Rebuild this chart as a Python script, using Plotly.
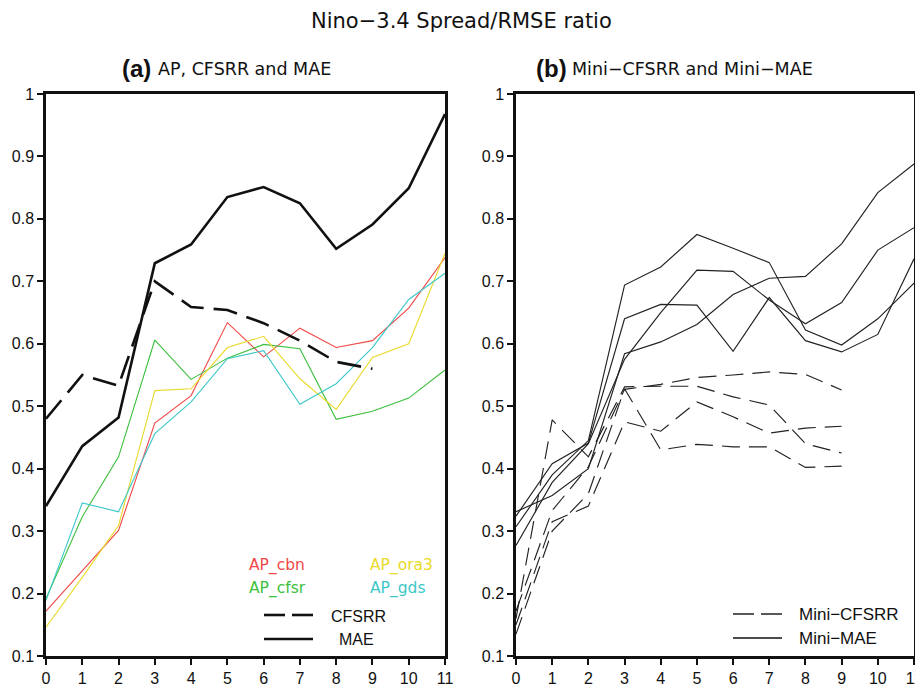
import plotly.graph_objects as go

leads = list(range(12))
leads10 = list(range(10))

# Panel (a)
mae = [0.340, 0.436, 0.482, 0.729, 0.759, 0.835, 0.851, 0.825, 0.752, 0.791, 0.849, 0.968]
cfsrr = [0.480, 0.550, 0.533, 0.700, 0.659, 0.654, 0.633, 0.605, 0.571, 0.560]
ap_cbn = [0.172, 0.237, 0.301, 0.473, 0.517, 0.634, 0.579, 0.625, 0.594, 0.605, 0.657, 0.738]
ap_cfsr = [0.192, 0.323, 0.419, 0.606, 0.543, 0.577, 0.599, 0.592, 0.479, 0.492, 0.513, 0.558]
ap_ora3 = [0.146, 0.226, 0.309, 0.525, 0.528, 0.594, 0.612, 0.544, 0.495, 0.578, 0.600, 0.745]
ap_gds = [0.189, 0.345, 0.331, 0.456, 0.507, 0.576, 0.589, 0.503, 0.536, 0.594, 0.671, 0.713]

# Panel (b)
mini_mae = [
    [0.307, 0.390, 0.445, 0.694, 0.723, 0.775, 0.753, 0.730, 0.622, 0.598, 0.640, 0.697],
    [0.324, 0.408, 0.441, 0.640, 0.663, 0.662, 0.588, 0.674, 0.605, 0.587, 0.615, 0.736],
    [0.277, 0.378, 0.440, 0.575, 0.650, 0.718, 0.716, 0.670, 0.632, 0.666, 0.750, 0.786],
    [0.331, 0.357, 0.400, 0.584, 0.603, 0.631, 0.679, 0.705, 0.708, 0.760, 0.842, 0.888],
]
mini_cfsrr = [
    [0.172, 0.333, 0.403, 0.527, 0.535, 0.546, 0.550, 0.555, 0.551, 0.526],
    [0.160, 0.478, 0.419, 0.531, 0.532, 0.532, 0.515, 0.502, 0.440, 0.425],
    [0.150, 0.315, 0.340, 0.475, 0.460, 0.507, 0.483, 0.457, 0.465, 0.468],
    [0.135, 0.300, 0.360, 0.528, 0.430, 0.439, 0.435, 0.435, 0.402, 0.404],
]

yticks = [0.1, 0.2, 0.3, 0.4, 0.5, 0.6, 0.7, 0.8, 0.9, 1.0]
yticktext = ["0.1", "0.2", "0.3", "0.4", "0.5", "0.6", "0.7", "0.8", "0.9", "1"]

RED = "#f04848"
GREEN = "#3cbf3c"
YELLOW = "#e8da2a"
CYAN = "#3cc8c8"

fig = go.Figure()

def add(x, y, color, width, dash, xa, ya):
    fig.add_trace(go.Scatter(x=x, y=y, mode="lines",
                             line=dict(color=color, width=width, dash=dash),
                             xaxis=xa, yaxis=ya, showlegend=False, hoverinfo="skip"))

add(leads, ap_cbn, RED, 1.1, "solid", "x", "y")
add(leads, ap_cfsr, GREEN, 1.1, "solid", "x", "y")
add(leads, ap_ora3, YELLOW, 1.1, "solid", "x", "y")
add(leads, ap_gds, CYAN, 1.1, "solid", "x", "y")
add(leads10, cfsrr, "#111111", 2.6, "24px,10px", "x", "y")
add(leads, mae, "#111111", 2.6, "solid", "x", "y")

for s in mini_cfsrr:
    add(leads10, s, "#222222", 1.15, "18px,9px", "x2", "y2")
for s in mini_mae:
    add(leads, s, "#222222", 1.15, "solid", "x2", "y2")

# page has an 8px body margin; figure sized to fit the window exactly
OFF = 8
W, H = 923 - OFF, 686 - OFF
def px(xp):
    return (xp - OFF) / W
def py(yp):
    return 1 - (yp - OFF) / H

axis_common = dict(
    showgrid=False, zeroline=False, showline=True, linecolor="#111111", linewidth=2.5,
    mirror=True, ticks="outside", ticklen=6, tickwidth=2, tickcolor="#111111",
    automargin=False,
    tickfont=dict(family="Liberation Sans", size=16, color="#111111"),
)

fig.update_layout(
    width=W, height=H,
    margin=dict(l=0, r=0, t=0, b=0, pad=0, autoexpand=False),
    paper_bgcolor="white", plot_bgcolor="white",
    xaxis=dict(domain=[px(46), px(445)], range=[0, 11], tickvals=leads, anchor="y", **axis_common),
    yaxis=dict(domain=[py(656), py(94)], range=[0.1, 1.0], tickvals=yticks, ticktext=yticktext,
               anchor="x", **axis_common),
    xaxis2=dict(domain=[px(516), px(914)], range=[0, 11], tickvals=leads, anchor="y2", **axis_common),
    yaxis2=dict(domain=[py(656), py(94)], range=[0.1, 1.0], tickvals=yticks, ticktext=yticktext,
                anchor="x2", **axis_common),
    showlegend=False,
)

ann = []
def text(xp, yp, t, size, color="#111111", family="DejaVu Sans", xanchor="left"):
    ann.append(dict(x=px(xp), y=py(yp), xref="paper", yref="paper", text=t, showarrow=False,
                    xanchor=xanchor, yanchor="middle",
                    font=dict(family=family, size=size, color=color)))

text(461, 21, "Nino\u22123.4 Spread/RMSE ratio", 21, xanchor="center")
text(120, 69, "<b>(a)</b>", 24, family="Liberation Sans")
text(156, 69, "AP, CFSRR and MAE", 17.5)
text(534, 69, "<b>(b)</b>", 24, family="Liberation Sans")
text(570, 69, "Mini\u2212CFSRR and Mini\u2212MAE", 17.5)

text(247, 565, "AP_cbn", 15.5, RED)
text(368, 565, "AP_ora3", 15.5, YELLOW)
text(247, 588, "AP_cfsr", 15.5, GREEN)
text(368, 588, "AP_gds", 15.5, CYAN)
text(329, 616, "CFSRR", 16, family="Liberation Sans")
text(337, 639, "MAE", 16, family="Liberation Sans")

text(797, 614, "Mini\u2212CFSRR", 17, family="Liberation Sans")
text(797, 638, "Mini\u2212MAE", 17, family="Liberation Sans")

fig.update_layout(annotations=ann)

shapes = []
def seg(x0, x1, yp, width, dash):
    shapes.append(dict(type="line", xref="paper", yref="paper", x0=px(x0), x1=px(x1),
                       y0=py(yp), y1=py(yp), line=dict(color="#111111", width=width, dash=dash)))

seg(264, 285, 615, 2.6, "solid")
seg(292, 313, 615, 2.6, "solid")
seg(264, 313, 639, 2.6, "solid")
seg(733, 754, 614, 1.4, "solid")
seg(761, 782, 614, 1.4, "solid")
seg(733, 782, 638, 1.4, "solid")
fig.update_layout(shapes=shapes)

fig.write_html("out.html")
